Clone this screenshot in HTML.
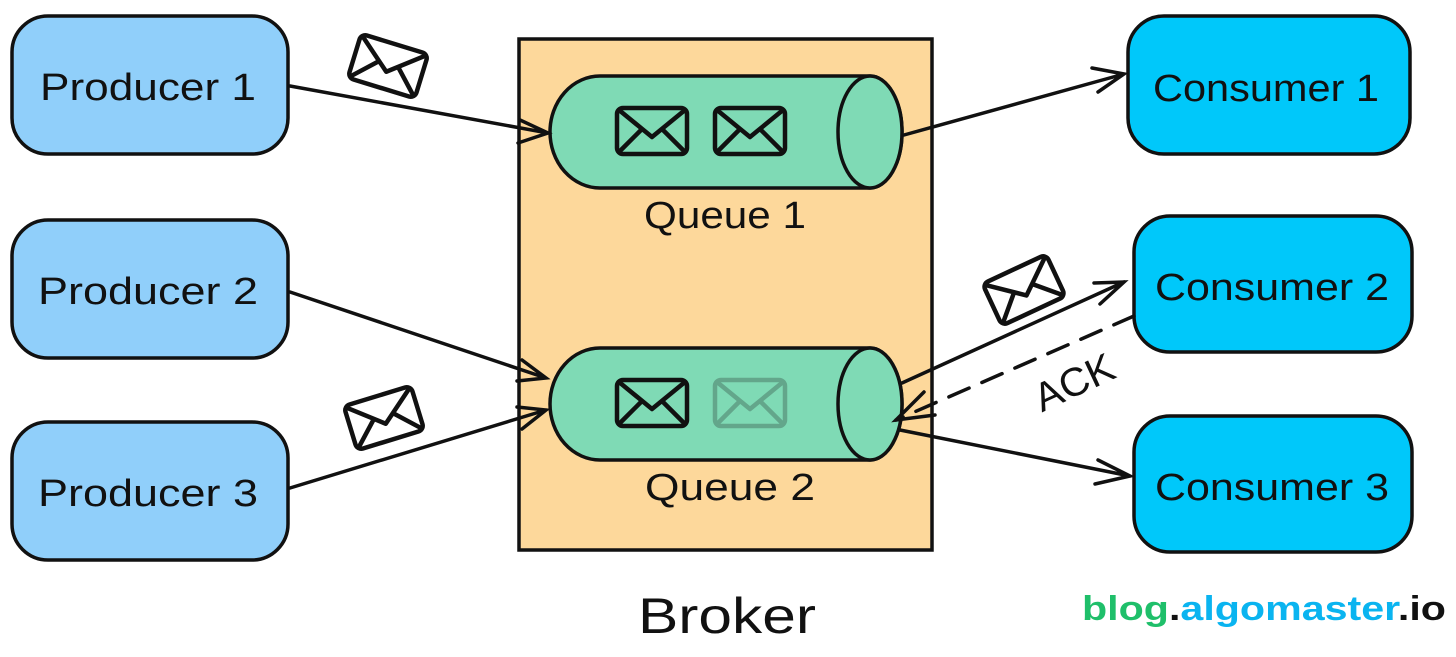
<!DOCTYPE html>
<html><head><meta charset="utf-8"><style>html,body{margin:0;padding:0;background:#fff}svg{display:block}</style></head>
<body>
<svg width="1456" height="657" viewBox="0 0 1456 657" xmlns="http://www.w3.org/2000/svg" font-family="'Liberation Sans', sans-serif">
<defs>
<g id="env" fill="none" stroke="#111" stroke-width="4.5" stroke-linejoin="round" stroke-linecap="round">
<rect x="-35" y="-23" width="70" height="46" rx="6"/>
<path d="M-33,-21 L0,6 L33,-21 M-33,21 L-10,-2 M33,21 L10,-2"/>
</g>
</defs>
<g stroke="#111" stroke-width="3.5">
<rect x="12" y="16" width="276" height="138" rx="36" fill="#90CFFA"/>
<rect x="12" y="220" width="276" height="138" rx="36" fill="#90CFFA"/>
<rect x="12" y="422" width="276" height="138" rx="36" fill="#90CFFA"/>
<rect x="1128" y="16" width="282" height="138" rx="36" fill="#00C8FA"/>
<rect x="1134" y="216" width="278" height="136" rx="36" fill="#00C8FA"/>
<rect x="1134" y="416" width="278" height="136" rx="36" fill="#00C8FA"/>
<rect x="519" y="39" width="413" height="511" fill="#FDD89B"/>
<path d="M600,76 H870 A32,56 0 0 1 870,188 H600 A50,56 0 0 1 600,76 Z" fill="#7FDAB5"/>
<ellipse cx="870" cy="132" rx="32" ry="56" fill="#7FDAB5"/>
<path d="M600,348 H870 A32,56 0 0 1 870,460 H600 A50,56 0 0 1 600,348 Z" fill="#7FDAB5"/>
<ellipse cx="870" cy="404" rx="32" ry="56" fill="#7FDAB5"/>
</g>
<use href="#env" transform="translate(652,131)"/>
<use href="#env" transform="translate(750,131)"/>
<use href="#env" transform="translate(652,403)"/>
<use href="#env" transform="translate(750,403)" opacity="0.25"/>
<use href="#env" transform="translate(388,66) rotate(17)"/>
<use href="#env" transform="translate(384,418) rotate(-17)"/>
<use href="#env" transform="translate(1024,290) rotate(-25)"/>
<g stroke="#111" stroke-width="3.5" fill="none" stroke-linecap="round">
<path d="M290,86 L548,133 M520,120 L548,133 L518,143"/>
<path d="M290,292 L546,378 M522,360 L546,378 L517,381"/>
<path d="M290,488 L546,410 M517,407 L546,410 L522,429"/>
<path d="M904,135 L1124,74 M1092,68 L1124,74 L1098,92"/>
<path d="M902,383 L1124,282 M1094,283 L1124,282 L1100,304"/>
<path d="M1134,316 L896,420" stroke-dasharray="22,14"/>
<path d="M924,392 L896,420 L935,415"/>
<path d="M900,430 L1130,476 M1098,460 L1130,476 L1095,484"/>
</g>
<g fill="#111" font-size="38" text-anchor="middle">
<text x="148" y="100" textLength="216" lengthAdjust="spacingAndGlyphs">Producer 1</text>
<text x="148" y="304" textLength="220" lengthAdjust="spacingAndGlyphs">Producer 2</text>
<text x="148" y="506" textLength="220" lengthAdjust="spacingAndGlyphs">Producer 3</text>
<text x="1266" y="101" textLength="226" lengthAdjust="spacingAndGlyphs">Consumer 1</text>
<text x="1272" y="300" textLength="234" lengthAdjust="spacingAndGlyphs">Consumer 2</text>
<text x="1272" y="500" textLength="234" lengthAdjust="spacingAndGlyphs">Consumer 3</text>
<text x="725" y="228" textLength="162" lengthAdjust="spacingAndGlyphs">Queue 1</text>
<text x="730" y="500" textLength="170" lengthAdjust="spacingAndGlyphs">Queue 2</text>
<text x="727" y="633" font-size="50" textLength="178" lengthAdjust="spacingAndGlyphs">Broker</text>
<text x="1074" y="396" font-size="40" transform="rotate(-25 1074 382)" textLength="84" lengthAdjust="spacingAndGlyphs">ACK</text>
</g>
<text x="1082" y="620" font-size="34" font-weight="bold" textLength="364" lengthAdjust="spacingAndGlyphs"><tspan fill="#1FBF6A">blog</tspan><tspan fill="#111">.</tspan><tspan fill="#0AB4F0">algomaster</tspan><tspan fill="#111">.io</tspan></text>
</svg>
</body></html>
